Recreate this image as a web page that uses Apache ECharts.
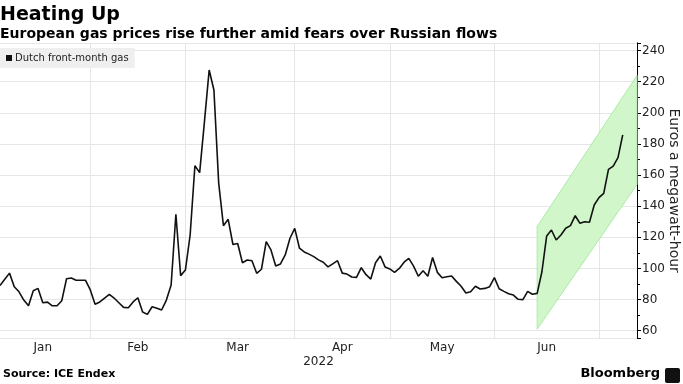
<!DOCTYPE html>
<html><head><meta charset="utf-8">
<script src="https://cdn.jsdelivr.net/npm/echarts@6/dist/echarts.min.js"></script>
<style>html,body{margin:0;padding:0;background:#fff}#c{width:683px;height:384px}</style>
</head><body><div id="c"></div>
<script>
// ---- data ----
const seriesName = 'Dutch front-month gas';
const startDate = '2022-01-05';
const endDate = '2022-07-13';
const holidays = ['2022-04-15'];
const monthNames = ['Jan','Feb','Mar','Apr','May','Jun','Jul','Aug','Sep','Oct','Nov','Dec'];
const yearLabel = '2022';
// Dutch TTF front-month, EUR/MWh, one value per trading day from startDate
const prices = [
  89, 93, 97, 88.3, 85, 79.7, 76, 85.7, 87.2, 78, 78.4, 76, 76, 79.3, 93.4, 93.9, 92.4, 92.4, 92.4,
  86.2, 77, 78.5, 81, 83.4, 81, 78, 75, 74.8, 78.5, 81.2, 72, 70.5, 75.4, 74.5, 73.3, 79.7, 89.4, 134.8, 95.4,
  99, 121.5, 166, 161.6, 194, 227.5, 214.7, 155, 127.5, 131.6, 115.4, 116, 103.7, 105.4, 105, 96.9, 99.5, 117.2, 111.9, 101.6, 102.9, 108.7, 119.4,
  125.8, 113, 110.6, 109.2, 107.6, 105.5, 104, 101, 103, 105, 97, 96.4, 94.5, 94.3, 100.5, 96, 93.2, 103.7, 108, 101,
  99.7, 97.5, 100, 104, 106.5, 101.5, 95, 98.5, 95, 107, 97.5, 94, 94.7, 95.2, 91.7, 88.6, 84.2, 85.1, 88.6, 86.8, 87.2, 88.3,
  94.1, 87, 85.3, 83.8, 82.9, 80.2, 80, 85.3, 83.4, 84, 97.9, 120.9, 124.7, 118.3, 121.5, 125.8, 127.5, 133.9, 129, 130, 129.7, 140.8,
  145.5, 148.3, 163.7, 165.8, 171.2, 185.8
];
// trend channel (green band): from/to date, lower and upper values
const bandDates = ['2022-06-14', '2022-07-13'];
const bandLower = [61, 154];
const bandUpper = [127, 224];
const yMin = 55, yMax = 245, yStep = 20;

// ---- trading-day categories ----
const dates = [];
(function(){
  const d = new Date(startDate + 'T00:00:00Z');
  const end = new Date(endDate + 'T00:00:00Z');
  while (d <= end) {
    const s = d.toISOString().slice(0, 10);
    const wd = d.getUTCDay();
    if (wd !== 0 && wd !== 6 && holidays.indexOf(s) < 0) dates.push(s);
    d.setUTCDate(d.getUTCDate() + 1);
  }
})();
const monthOf = s => +s.slice(5, 7) - 1;
const monthStarts = [];
for (let i = 1; i < dates.length; i++) if (monthOf(dates[i]) !== monthOf(dates[i-1])) monthStarts.push(i);
const bounds = [0].concat(monthStarts);
const labelIdx = [];
for (let k = 0; k < bounds.length - 1; k++) labelIdx.push(Math.floor((bounds[k] + bounds[k+1]) / 2));

const FONT = 'DejaVu Sans';
const chart = echarts.init(document.getElementById('c'), null, {renderer: 'canvas'});
chart.setOption({
  animation: false,
  textStyle: {fontFamily: FONT},
  title: {
    text: 'Heating Up',
    subtext: 'European gas prices rise further amid fears over Russian flows',
    left: 0, top: 6, padding: 0, itemGap: 2,
    textStyle: {fontFamily: FONT, fontSize: 19, fontWeight: 'bold', color: '#000'},
    subtextStyle: {fontFamily: FONT, fontSize: 14, fontWeight: 'bold', color: '#000'}
  },
  legend: {
    data: [seriesName], left: 0, top: 48, padding: [5, 6, 5, 6],
    backgroundColor: '#efefef', icon: 'rect', itemWidth: 6, itemHeight: 6, itemGap: 4,
    textStyle: {fontFamily: FONT, fontSize: 10, color: '#222', padding: [0, 0, 0, -2]}
  },
  grid: {left: 0, right: 46, top: 42.8, bottom: 45.5, containLabel: false, outerBoundsMode: 'none'},
  xAxis: {
    type: 'category', data: dates, boundaryGap: false,
    axisLine: {show: false}, axisTick: {show: false},
    axisLabel: {
      interval: (i) => labelIdx.indexOf(i) >= 0,
      formatter: (v) => monthNames[monthOf(v)],
      color: '#222', fontSize: 12, margin: 3, fontFamily: FONT
    },
    splitLine: {show: true, interval: (i) => monthStarts.indexOf(i) >= 0, lineStyle: {color: '#e6e6e6', width: 1}},
    name: yearLabel, nameLocation: 'middle', nameGap: 17, nameMoveOverlap: false,
    nameTextStyle: {color: '#222', fontSize: 12, fontFamily: FONT}
  },
  yAxis: {
    type: 'value', position: 'right', min: yMin, max: yMax,
    minInterval: yStep, maxInterval: yStep, splitNumber: 10,
    axisLine: {show: true, lineStyle: {color: '#000', width: 1}},
    axisTick: {show: true, length: 4, lineStyle: {color: '#000'}},
    minorTick: {show: true, splitNumber: 2, length: 3, lineStyle: {color: '#000'}},
    axisLabel: {showMinLabel: false, showMaxLabel: false, color: '#222', fontSize: 12, margin: 5, fontFamily: FONT},
    splitLine: {show: true, lineStyle: {color: '#e6e6e6', width: 1}},
    name: 'Euros a megawatt-hour', nameLocation: 'middle', nameRotate: -90, nameGap: 30, nameMoveOverlap: false,
    nameTextStyle: {color: '#222', fontSize: 14, fontFamily: FONT}
  },
  series: [
    {
      type: 'custom', name: 'band', z: 1, silent: true,
      data: [[bandDates[0], bandLower[0]]],
      renderItem: function (params, api) {
        const pts = [
          api.coord([bandDates[0], bandLower[0]]),
          api.coord([bandDates[1], bandLower[1]]),
          api.coord([bandDates[1], bandUpper[1]]),
          api.coord([bandDates[0], bandUpper[0]])
        ];
        return {type: 'polygon', shape: {points: pts}, style: {fill: '#d0f6ca', stroke: '#aeeaa8', lineWidth: 1}};
      }
    },
    {
      type: 'line', name: seriesName, data: prices, z: 3,
      showSymbol: false, symbol: 'none',
      lineStyle: {color: '#111', width: 1.6}, itemStyle: {color: '#111'}
    }
  ],
  graphic: [
    {type: 'text', left: 3, top: 369, style: {text: 'Source: ICE Endex', font: 'bold 11px "DejaVu Sans"', fill: '#000'}},
    {type: 'text', right: 23, top: 367, style: {text: 'Bloomberg', font: 'bold 13px "DejaVu Sans"', fill: '#000'}},
    {type: 'rect', right: 3, top: 368, shape: {width: 15, height: 15, r: 2}, style: {fill: '#111'}}
  ]
});
</script>
</body></html>
